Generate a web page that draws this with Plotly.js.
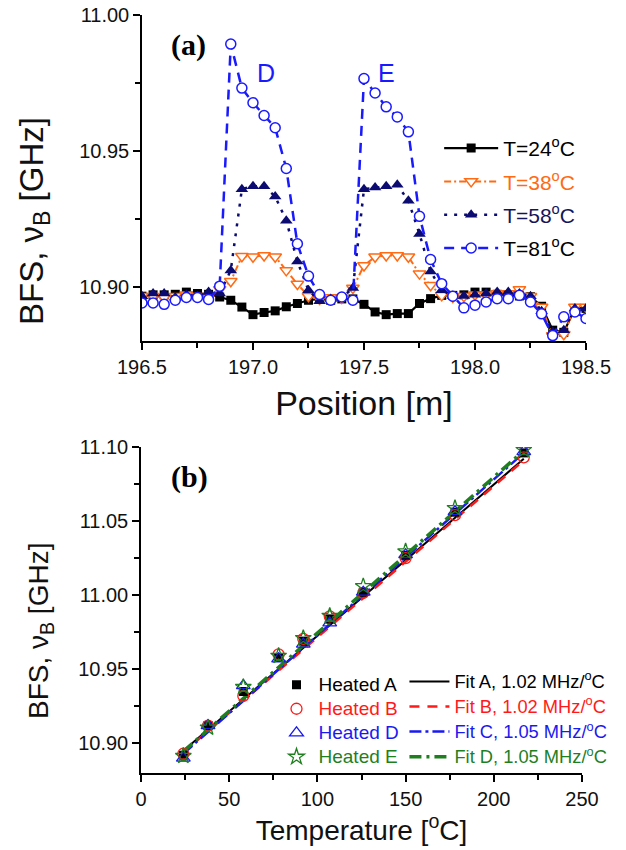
<!DOCTYPE html>
<html><head><meta charset="utf-8">
<script src="https://cdn.plot.ly/plotly-3.0.1.min.js"></script>
<style>html,body{margin:0;padding:0;background:#fff}</style>
</head><body><div id="chart" style="width:626px;height:850px"></div>
<script>
// ---------- Panel (a): BFS vs position ----------
const position = [196.50,196.55,196.60,196.65,196.70,196.75,196.80,196.85,196.90,196.95,
  197.00,197.05,197.10,197.15,197.20,197.25,197.30,197.35,197.40,197.45,
  197.50,197.55,197.60,197.65,197.70,197.75,197.80,197.85,197.90,197.95,
  198.00,198.05,198.10,198.15,198.20,198.25,198.30,198.35,198.40,198.45,198.50];
const bfsT24 = [10.8965,10.8970,10.8970,10.8972,10.8980,10.8975,10.8972,10.8962,10.8950,10.8925,
  10.8897,10.8905,10.8911,10.8926,10.8938,10.8950,10.8955,10.8950,10.8955,10.8955,
  10.8935,10.8907,10.8897,10.8901,10.8901,10.8938,10.8956,10.8968,10.8968,10.8970,
  10.8980,10.8980,10.8972,10.8968,10.8966,10.8963,10.8928,10.8840,10.8832,10.8920,10.8920];
const bfsT38 = [10.8965,10.8965,10.8960,10.8965,10.8970,10.8965,10.8960,10.8990,10.9020,10.9112,
  10.9110,10.9115,10.9110,10.9060,10.9010,10.8965,10.8955,10.8960,10.8958,10.8995,
  10.9078,10.9110,10.9115,10.9115,10.9110,10.9048,10.9005,10.8968,10.8962,10.8965,
  10.8970,10.8970,10.8975,10.8975,10.8990,10.8965,10.8925,10.8820,10.8825,10.8925,10.8925];
const bfsT58 = [10.8965,10.8975,10.8975,10.8960,10.8970,10.8965,10.8980,10.8975,10.9060,10.9359,
  10.9370,10.9370,10.9332,10.9243,10.9093,10.8987,10.8946,10.8955,10.8960,10.8995,
  10.9359,10.9365,10.9370,10.9375,10.9316,10.9194,10.9056,10.8987,10.8966,10.8966,
  10.8970,10.8975,10.8980,10.8980,10.8975,10.8965,10.8910,10.8834,10.8840,10.8920,10.8920];
const bfsT81 = [10.8940,10.8940,10.8935,10.8950,10.8960,10.8960,10.8953,10.9002,10.9893,10.9731,
  10.9677,10.9630,10.9585,10.9435,10.9158,10.9039,10.8971,10.8950,10.8962,10.8950,
  10.9766,10.9713,10.9662,10.9625,10.9570,10.9259,10.9100,10.9011,10.8965,10.8922,
  10.8932,10.8944,10.8956,10.8956,10.8968,10.8944,10.8900,10.8820,10.8889,10.8907,10.8883];
const namesA = ['T=24<sup>o</sup>C','T=38<sup>o</sup>C','T=58<sup>o</sup>C','T=81<sup>o</sup>C'];

// ---------- Panel (b): BFS vs temperature ----------
const temperature = [24, 38, 58, 78, 92, 107, 126, 150, 178, 217];
const heatedA = [10.8920,10.9120,10.9350,10.9580,10.9690,10.9840,11.0020,11.0270,11.0560,11.0960];
const heatedB = [10.8930,10.9120,10.9320,10.9600,10.9705,10.9857,11.0015,11.0250,11.0540,11.0930];
const heatedD = [10.8900,10.9120,10.9390,10.9570,10.9670,10.9813,11.0020,11.0273,11.0564,11.0969];
const heatedE = [10.8915,10.9106,10.9380,10.9590,10.9710,10.9860,11.0060,11.0295,11.0587,11.0980];
const fitT = [24, 217];
const fitA = [10.8950, 11.0920];
const fitB = [10.8940, 11.0910];
const fitC = [10.8930, 11.0960];
const fitD = [10.8945, 11.0975];
const namesHeated = ['Heated A','Heated B','Heated D','Heated E'];
const namesFit = ['Fit A, 1.02 MHz/<sup>o</sup>C','Fit B, 1.02 MHz/<sup>o</sup>C',
                  'Fit C, 1.05 MHz/<sup>o</sup>C','Fit D, 1.05 MHz/<sup>o</sup>C'];
const yTitle = 'BFS, ν<sub>B</sub> [GHz]';

const ORANGE = '#FF6A13', NAVY = '#0B0B72', BLUE = '#1A1AFF';
const RED = '#FF1A1A', BLUE2 = '#1A1AF0', GREEN = '#1F7F1F';
const col = (c, t, fs) => '<span style="color:' + c + (fs ? ';font-size:' + fs + 'px' : '') + '">' + t + '</span>';

const traces = [
  {x: position, y: bfsT24, xaxis:'x', yaxis:'y', mode:'lines+markers', name: col('#000', namesA[0]),
   legend:'legend', legendgroup:'a1',
   line:{color:'#000', width:2.2}, marker:{symbol:'square', size:9, color:'#000'}},
  {x: position, y: bfsT38, xaxis:'x', yaxis:'y', mode:'lines+markers', name: col(ORANGE, namesA[1]),
   legend:'legend', legendgroup:'a2',
   line:{color:ORANGE, width:2, dash:'7px,3px,2px,3px'},
   marker:{symbol:'triangle-down', size:11, color:'#fff', line:{color:ORANGE, width:1.5}}},
  {x: position, y: bfsT58, xaxis:'x', yaxis:'y', mode:'lines+markers', name: col('#14145A', namesA[2]),
   legend:'legend', legendgroup:'a3',
   line:{color:NAVY, width:2.5, dash:'3px,7px'},
   marker:{symbol:'triangle-up', size:11, color:NAVY}},
  {x: position, y: bfsT81, xaxis:'x', yaxis:'y', mode:'lines+markers', name: col('#000', namesA[3]),
   legend:'legend', legendgroup:'a4',
   line:{color:BLUE, width:2.5, dash:'10px,7px'},
   marker:{symbol:'circle', size:10, color:'#fff', line:{color:BLUE, width:1.5}}},

  {x: fitT, y: fitA, xaxis:'x2', yaxis:'y2', mode:'lines', name: col('#000', namesFit[0], 18.3), legend:'legend3',
   line:{color:'#000', width:2}},
  {x: fitT, y: fitB, xaxis:'x2', yaxis:'y2', mode:'lines', name: col(RED, namesFit[1], 18.3), legend:'legend3',
   line:{color:RED, width:2.5, dash:'10px,8px'}},
  {x: fitT, y: fitC, xaxis:'x2', yaxis:'y2', mode:'lines', name: col(BLUE2, namesFit[2], 18.3), legend:'legend3',
   line:{color:BLUE2, width:2.5, dash:'12px,4px,3px,4px'}},
  {x: fitT, y: fitD, xaxis:'x2', yaxis:'y2', mode:'lines', name: col(GREEN, namesFit[3], 18.3), legend:'legend3',
   line:{color:GREEN, width:3.5, dash:'12px,5px,3px,5px'}},

  {x: temperature, y: heatedA, xaxis:'x2', yaxis:'y2', mode:'markers', name: col('#000', namesHeated[0], 19), legend:'legend2',
   marker:{symbol:'square', size:9, color:'#000'}},
  {x: temperature, y: heatedB, xaxis:'x2', yaxis:'y2', mode:'markers', name: col(RED, namesHeated[1], 19), legend:'legend2',
   marker:{symbol:'circle-open', size:11, color:RED, line:{width:1.3}}},
  {x: temperature, y: heatedD, xaxis:'x2', yaxis:'y2', mode:'markers', name: col(BLUE2, namesHeated[2], 19), legend:'legend2',
   marker:{symbol:'triangle-up-open', size:12, color:BLUE2, line:{width:1.3}}},
  {x: temperature, y: heatedE, xaxis:'x2', yaxis:'y2', mode:'markers', name: col(GREEN, namesHeated[3], 19), legend:'legend2',
   marker:{symbol:'star-open', size:12, color:GREEN, line:{width:1.3}}}
];

const FONT = 'Liberation Sans, Arial, sans-serif';
const axisBase = {
  showline:true, linecolor:'#000', linewidth:1.5, ticks:'outside', ticklen:7, tickwidth:1.5,
  tickcolor:'#000', showgrid:false, zeroline:false, mirror:false,
  tickfont:{family:FONT, size:20, color:'#111'}
};

const layout = {
  width:626, height:850,
  margin:{l:141, r:40, t:15, b:77},
  paper_bgcolor:'#fff', plot_bgcolor:'#fff',
  font:{family:FONT, color:'#000'},
  showlegend:true,
  xaxis: Object.assign({}, axisBase, {
    domain:[0.0022, 1], anchor:'y', range:[196.5, 198.5], dtick:0.5, tick0:196.5, tickformat:'.1f',
    minor:{dtick:0.25, ticks:'outside', ticklen:5, tickwidth:1.5, tickcolor:'#000'},
    title:{text:'Position [m]', font:{family:FONT, size:34, color:'#111'}, standoff:14}
  }),
  yaxis: Object.assign({}, axisBase, {
    domain:[0.5699, 1], anchor:'x', range:[10.88, 11.0], dtick:0.05, tick0:10.9, tickformat:'.2f',
    minor:{dtick:0.025, ticks:'outside', ticklen:5, tickwidth:1.5, tickcolor:'#000'}
  }),
  xaxis2: Object.assign({}, axisBase, {
    domain:[0, 0.991], anchor:'y2', range:[0, 250], dtick:50, tick0:0,
    minor:{dtick:25, ticks:'outside', ticklen:5, tickwidth:1.5, tickcolor:'#000'},
    title:{text:'Temperature [<sup>o</sup>C]', font:{family:FONT, size:28, color:'#111'}, standoff:10}
  }),
  yaxis2: Object.assign({}, axisBase, {
    domain:[0, 0.4301], anchor:'x2', range:[10.88, 11.10], dtick:0.05, tick0:10.9, tickformat:'.2f',
    minor:{dtick:0.025, ticks:'outside', ticklen:5, tickwidth:1.5, tickcolor:'#000'}
  }),
  legend:{x:0.67, y:0.851, xanchor:'left', yanchor:'top', bgcolor:'rgba(0,0,0,0)',
    font:{family:FONT, size:21}, itemwidth:54, tracegroupgap:3, traceorder:'grouped'},
  legend2:{x:0.30, y:0.139, xanchor:'left', yanchor:'top', bgcolor:'rgba(0,0,0,0)',
    font:{family:FONT, size:16.2}, itemwidth:34},
  legend3:{x:0.592, y:0.144, xanchor:'left', yanchor:'top', bgcolor:'rgba(0,0,0,0)',
    font:{family:FONT, size:17}, itemwidth:40},
  annotations:[
    {text:yTitle, textangle:-90, xref:'paper', yref:'paper', x:(34-141)/445, y:(773-221)/758,
     xanchor:'center', yanchor:'middle', showarrow:false, font:{family:FONT, size:33, color:'#111'}},
    {text:yTitle, textangle:-90, xref:'paper', yref:'paper', x:(40-141)/445, y:(773-631)/758,
     xanchor:'center', yanchor:'middle', showarrow:false, font:{family:FONT, size:28, color:'#111'}},
    {text:'<b>(a)</b>', xref:'paper', yref:'paper', x:(188-141)/445, y:(773-45)/758,
     xanchor:'center', yanchor:'middle',
     showarrow:false, font:{family:'Liberation Serif, Times New Roman, serif', size:30, color:'#000'}},
    {text:'<b>(b)</b>', xref:'paper', yref:'paper', x:(189-141)/445, y:(773-477)/758,
     xanchor:'center', yanchor:'middle',
     showarrow:false, font:{family:'Liberation Serif, Times New Roman, serif', size:30, color:'#000'}},
    {text:'D', xref:'x', yref:'y', x:197.06, y:10.9788, showarrow:false,
     font:{family:FONT, size:25, color:BLUE}},
    {text:'E', xref:'x', yref:'y', x:197.60, y:10.9788, showarrow:false,
     font:{family:FONT, size:25, color:BLUE}}
  ]
};

Plotly.newPlot('chart', traces, layout, {displayModeBar:false, responsive:false});
</script>
</body></html>
